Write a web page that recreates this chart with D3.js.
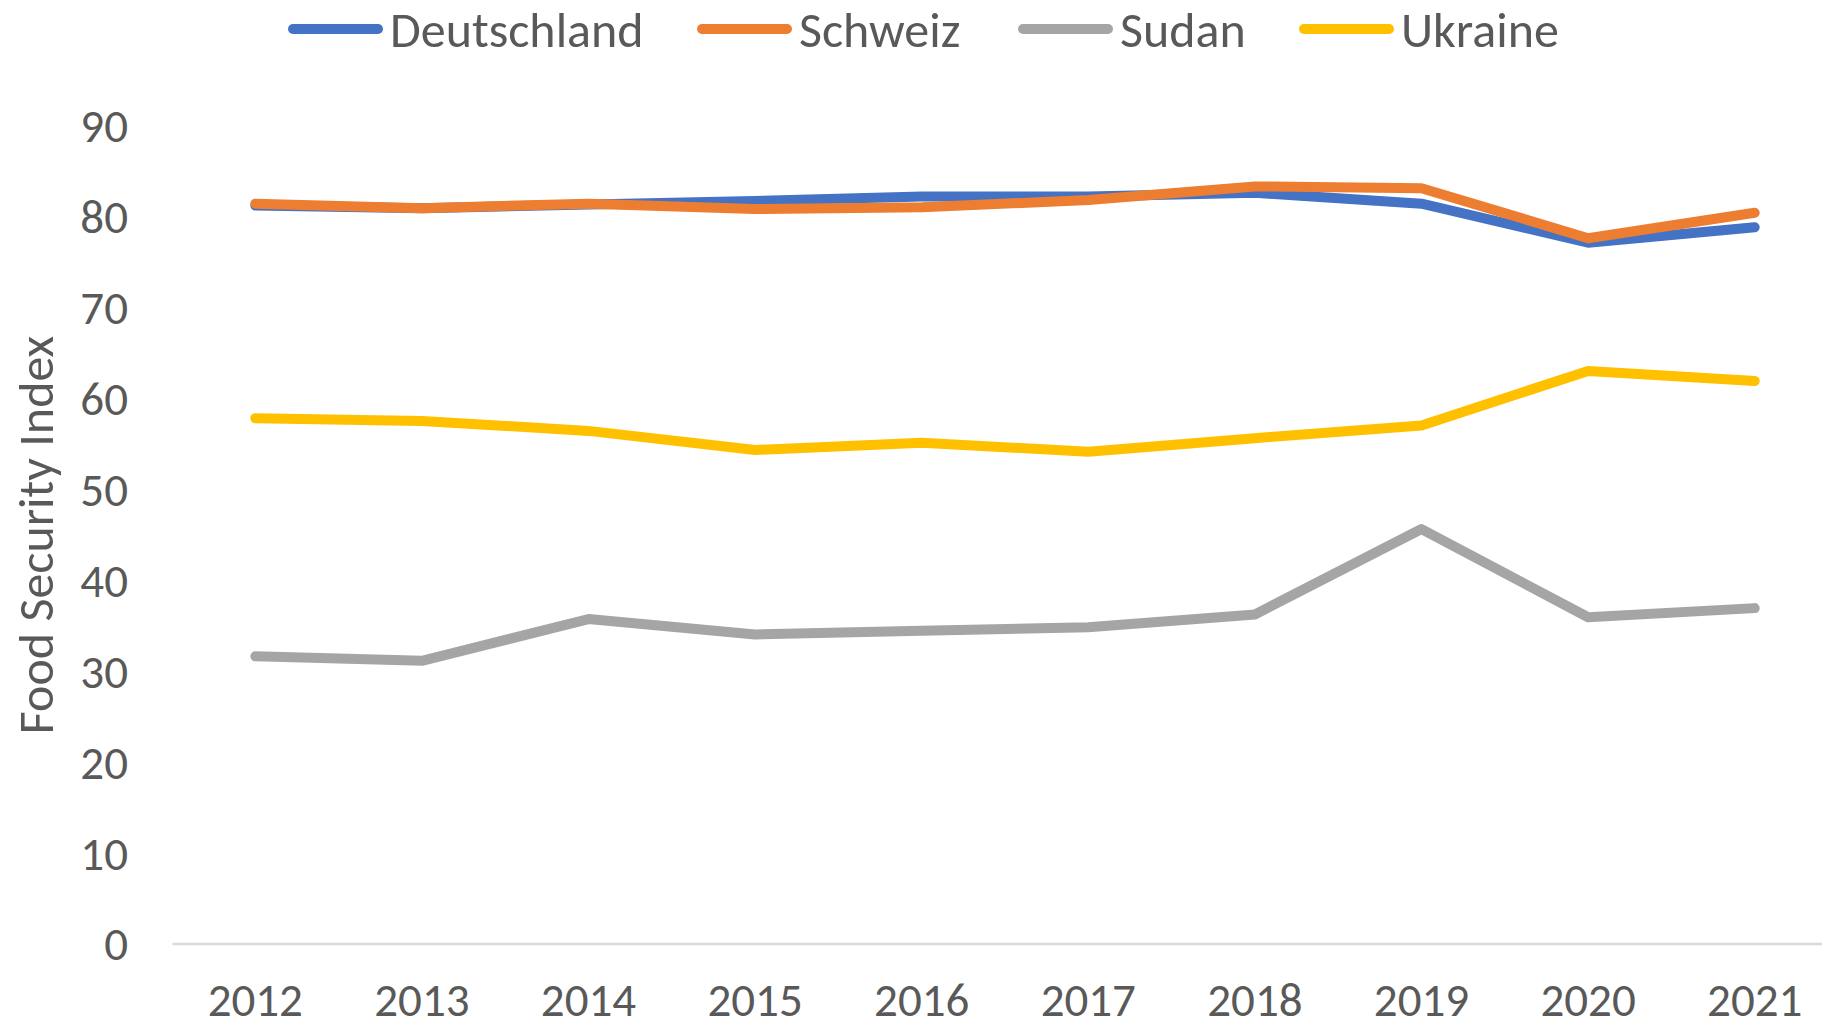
<!DOCTYPE html>
<html>
<head>
    <title>Food Security Index</title>
    <script src="https://cdnjs.cloudflare.com/ajax/libs/d3/7.8.5/d3.min.js"></script>
    <style>
    body {
        margin:0;
        background:white;
    }
    svg text {
        font-family:Carlito, Calibri, Lato, "Liberation Sans", Arial, sans-serif;
        fill:#595959;
    }
    </style>
</head>
<body>
    <div id='chart'></div>
    <script>
        // data
        var years = ['2012','2013','2014','2015','2016','2017','2018','2019','2020','2021'];
        var deutschland = [81.2, 80.9, 81.3, 81.7, 82.2, 82.2, 82.6, 81.4, 77.1, 78.8];
        var schweiz     = [81.4, 80.9, 81.4, 80.8, 81.0, 81.8, 83.3, 83.1, 77.6, 80.4];
        var sudan       = [31.6, 31.1, 35.7, 34.0, 34.4, 34.8, 36.2, 45.6, 35.9, 36.9];
        var ukraine     = [57.8, 57.5, 56.4, 54.3, 55.1, 54.1, 55.6, 57.0, 63.0, 61.9];
        var yTicks = [0, 10, 20, 30, 40, 50, 60, 70, 80, 90];

        var series = [
            {name:'Deutschland', values:deutschland, color:'#4472C4', legendX:288},
            {name:'Schweiz', values:schweiz, color:'#ED7D31', legendX:697},
            {name:'Sudan', values:sudan, color:'#A5A5A5', legendX:1018},
            {name:'Ukraine', values:ukraine, color:'#FFC000', legendX:1299}
        ];

        var width = 1822, height = 1028;

        var svg = d3.select('#chart')
            .append('svg')
            .attr('width', width)
            .attr('height', height);

        var x = d3.scaleBand()
            .domain(years)
            .range([172, 1838]);

        var y = d3.scaleLinear()
            .domain([0, 90])
            .range([943.5, 125.5]);

        // bottom axis line + year labels
        var xAxis = svg.append('g')
            .attr('transform', 'translate(0,' + y(0) + ')')
            .call(d3.axisBottom(x).tickSize(0).tickPadding(0));
        xAxis.select('.domain')
            .attr('stroke', '#d9d9d9')
            .attr('stroke-width', 2.5);
        xAxis.selectAll('text')
            .attr('y', 72)
            .attr('dy', null)
            .style('font-size', '47px');

        // left axis, labels only
        var yAxis = svg.append('g')
            .attr('transform', 'translate(128,0)')
            .call(d3.axisLeft(y).tickValues(yTicks).tickSize(0).tickPadding(0));
        yAxis.select('.domain').remove();
        yAxis.selectAll('text')
            .attr('dy', '0.35em')
            .style('font-size', '47px');

        svg.append('text')
            .attr('transform', 'translate(53,535) rotate(-90)')
            .attr('text-anchor', 'middle')
            .style('font-size', '50px')
            .text('Food Security Index');

        var line = d3.line()
            .x(function(d, i) { return x(years[i]) + x.bandwidth() / 2; })
            .y(function(d) { return y(d); });

        svg.selectAll('path.series')
            .data(series)
            .enter()
            .append('path')
            .attr('class', 'series')
            .attr('fill', 'none')
            .attr('stroke', function(d) { return d.color; })
            .attr('stroke-width', 10)
            .attr('stroke-linejoin', 'round')
            .attr('stroke-linecap', 'round')
            .attr('d', function(d) { return line(d.values); });

        // legend
        var legend = svg.selectAll('g.legend')
            .data(series)
            .enter()
            .append('g')
            .attr('class', 'legend')
            .attr('transform', function(d) { return 'translate(' + d.legendX + ',29)'; });

        legend.append('line')
            .attr('x1', 5)
            .attr('x2', 90)
            .attr('stroke', function(d) { return d.color; })
            .attr('stroke-width', 10)
            .attr('stroke-linecap', 'round');

        legend.append('text')
            .attr('x', 102)
            .attr('dy', '0.36em')
            .style('font-size', '50px')
            .text(function(d) { return d.name; });
    </script>
</body>
</html>
